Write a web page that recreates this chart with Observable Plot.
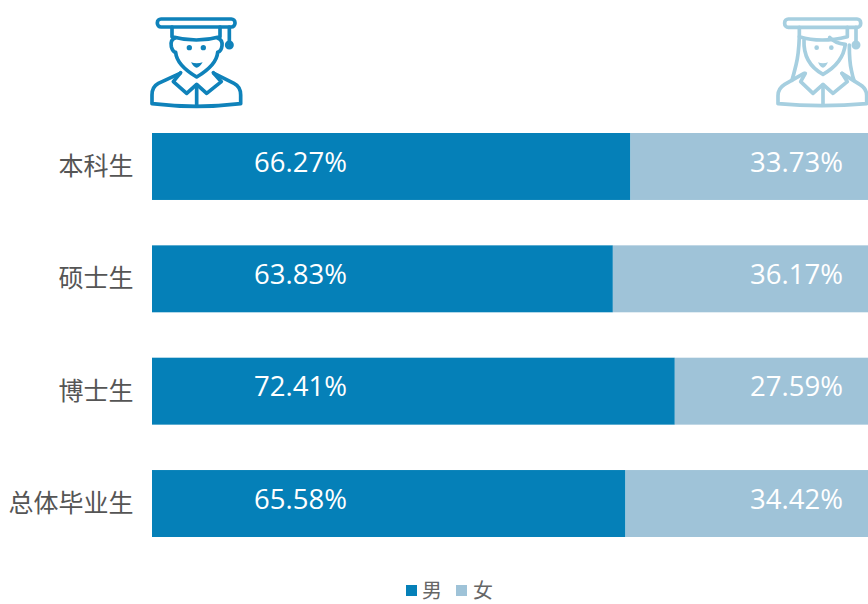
<!DOCTYPE html>
<html><head><meta charset="utf-8">
<script src="https://cdn.jsdelivr.net/npm/d3@7"></script>
<script src="https://cdn.jsdelivr.net/npm/@observablehq/plot@0.6"></script>
<style>
html,body{margin:0;padding:0;background:#fff;width:868px;height:604px;overflow:hidden}
#wrap{position:relative;width:868px;height:604px}
#chart{position:absolute;left:0;top:0}
.icon{position:absolute;top:5px;fill:none;stroke-linecap:round;stroke-linejoin:round;filter:blur(.7px)}
#legend{position:absolute;left:0;right:0;top:575px;height:29px;font:20px/29px "Noto Sans CJK SC",sans-serif;color:#666}
#legend i{position:absolute;top:10px;width:11px;height:11px}
#legend span{position:absolute;top:0;line-height:29px}
</style></head><body>
<div id="wrap">
<div id="chart"></div>
<svg class="icon" style="left:140px" width="120" height="110" viewBox="0 0 360 330" stroke="#0f82ba" stroke-width="11">
<rect x="52" y="42" width="233" height="24" rx="11"/>
<path d="M96 66V95Q170 115 240 95V66"/>
<path d="M268 66V118"/><circle cx="268" cy="120" r="8"/>
<path d="M104 100Q90 105 94 125Q98 140 107 142Q110 180 170 216Q230 180 233 142Q244 138 246 122Q248 105 234 100"/>
<circle cx="148" cy="128" r="8" fill="#0f82ba" stroke="none"/><circle cx="190" cy="128" r="8" fill="#0f82ba" stroke="none"/>
<path d="M153 172Q170 178 188 172Q178 188 170 188Q162 188 153 172Z" fill="#0f82ba" stroke="none"/>
<path d="M120 205L55 235Q36 245 36 270V296Q170 312 302 296V270Q302 245 282 235L222 205"/>
<path d="M122 203L100 230L140 265L170 238L200 265L244 230L220 203"/>
<path d="M170 240V303"/>
</svg>
<svg class="icon" style="left:768px" width="100" height="110" viewBox="0 0 300 330" stroke="#a6cfe0" stroke-width="11">
<rect x="50" y="42" width="228" height="25" rx="11"/>
<path d="M94 67V95Q160 115 238 95V67"/>
<path d="M264 67V118"/><circle cx="264" cy="120" r="8"/>
<path d="M94 95Q92 150 84 180Q78 205 72 226"/>
<path d="M244 120Q244 170 250 195Q254 215 258 226"/>
<path d="M108 105Q105 175 165 208Q225 175 232 118Q200 115 185 97"/>
<circle cx="146" cy="128" r="7" fill="#a6cfe0" stroke="none"/><circle cx="190" cy="128" r="7" fill="#a6cfe0" stroke="none"/>
<path d="M150 172Q165 178 180 172Q172 188 165 188Q157 188 150 172Z" fill="#a6cfe0" stroke="none"/>
<path d="M108 205L50 238Q30 250 30 272V296Q160 308 296 296V272Q296 250 275 238L222 205"/>
<path d="M112 205L98 230L135 265L165 238L195 265L238 230L222 205"/>
<path d="M165 240V300"/>
</svg>
<div id="legend"><i style="left:406px;background:#0580b8"></i><span style="left:422px">男</span><i style="left:456px;background:#9fc3d8"></i><span style="left:473px">女</span></div>
</div>
<script>
const categories = ["本科生","硕士生","博士生","总体毕业生"];
const male = [66.27,63.83,72.41,65.58];
const female = [33.73,36.17,27.59,34.42];
const colorMale = "#0580b8", colorFemale = "#9fc3d8";

const rows = categories.map((c,i)=>({c,m:male[i],f:female[i]}));
const labelFont = {fontFamily:"'Open Sans',sans-serif",fontSize:27.5,fill:"#fff",dy:-4};
const plot = Plot.plot({
  width:868,height:575,
  marginLeft:152,marginRight:0,marginTop:133,marginBottom:38,
  style:{background:"transparent"},
  x:{domain:[0,100],range:[152,874],axis:null},
  y:{domain:categories,paddingInner:0.404,paddingOuter:0,round:false,label:null},
  marks:[
    Plot.barX(rows,{y:"c",x1:0,x2:"m",fill:colorMale}),
    Plot.barX(rows,{y:"c",x1:"m",x2:100,fill:colorFemale}),
    Plot.text(rows,{y:"c",x:()=>20.5,text:d=>d.m.toFixed(2)+"%",...labelFont}),
    Plot.text(rows,{y:"c",x:()=>89.2,text:d=>d.f.toFixed(2)+"%",...labelFont}),
    Plot.axisY({tickSize:0,tickPadding:19,fontSize:25,fontFamily:"'Noto Sans CJK SC',sans-serif",color:"#555",label:null})
  ]
});
document.getElementById("chart").appendChild(plot);
</script>
</body></html>
